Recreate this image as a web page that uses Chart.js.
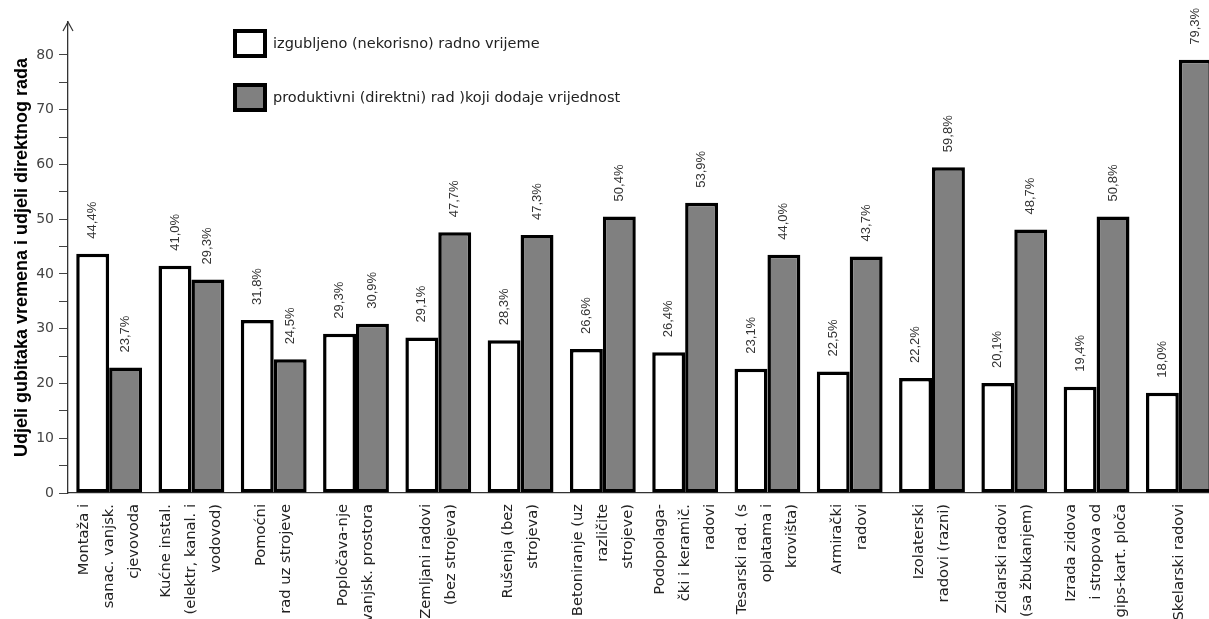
<!DOCTYPE html>
<html><head><meta charset="utf-8">
<script src="https://cdn.jsdelivr.net/npm/chart.js@4.4.0/dist/chart.umd.min.js"></script>
<style>html,body{margin:0;padding:0;background:#fff;overflow:hidden}#wrap{width:1220px;height:619px;position:relative}</style>
</head><body><div id="wrap"><canvas id="c"></canvas></div>
<script>
const categories = [
  ["Montaža i","sanac. vanjsk.","cjevovoda"],
  ["Kućne instal.","(elektr, kanal. i","vodovod)"],
  ["Pomoćni","rad uz strojeve"],
  ["Popločava-nje","vanjsk. prostora"],
  ["Zemljani radovi","(bez strojeva)"],
  ["Rušenja (bez","strojeva)"],
  ["Betoniranje (uz","različite","strojeve)"],
  ["Podopolaga-","čki i keramič.","radovi"],
  ["Tesarski rad. (s","oplatama i","krovišta)"],
  ["Armirački","radovi"],
  ["Izolaterski","radovi (razni)"],
  ["Zidarski radovi","(sa žbukanjem)"],
  ["Izrada zidova","i stropova od","gips-kart. ploča"],
  ["Skelarski radovi"]
];
const seriesNames = ["izgubljeno (nekorisno) radno vrijeme","produktivni (direktni) rad )koji dodaje vrijednost"];
const lostValues = [43.7,41.5,31.6,29.1,28.4,27.9,26.3,25.7,22.7,22.2,21.0,20.1,19.4,18.3];
const productiveValues = [22.9,39.0,24.4,30.9,47.6,47.1,50.5,53.0,43.5,43.2,59.5,48.1,50.5,79.1];
const lostLabels = ["44,4%","41,0%","31,8%","29,3%","29,1%","28,3%","26,6%","26,4%","23,1%","22,5%","22,2%","20,1%","19,4%","18,0%"];
const productiveLabels = ["23,7%","29,3%","24,5%","30,9%","47,7%","47,3%","50,4%","53,9%","44,0%","43,7%","59,8%","48,7%","50,8%","79,3%"];
const yTitle = "Udjeli gubitaka vremena i udjeli direktnog rada";

const barLabels = [lostLabels, productiveLabels];
const fills = ["#ffffff","#808080"];

const overlay = {
  id: 'overlay',
  afterDraw(chart) {
    const ctx = chart.ctx, xs = chart.scales.x, area = chart.chartArea;
    ctx.save();
    // arrow head on y axis
    ctx.strokeStyle = '#333'; ctx.lineWidth = 1.2;
    ctx.beginPath();
    ctx.moveTo(area.left - 5, area.top + 9);
    ctx.lineTo(area.left, area.top);
    ctx.lineTo(area.left + 5, area.top + 9);
    ctx.stroke();
    // value labels
    ctx.font = '13px "Liberation Sans", Arial, sans-serif';
    ctx.fillStyle = '#333';
    ctx.textAlign = 'left'; ctx.textBaseline = 'middle';
    chart.data.datasets.forEach((ds, di) => {
      chart.getDatasetMeta(di).data.forEach((bar, i) => {
        ctx.save();
        ctx.translate(bar.x, bar.y - 15);
        ctx.rotate(-Math.PI / 2);
        ctx.fillText(barLabels[di][i], 0, 0);
        ctx.restore();
      });
    });
    // category labels
    ctx.font = '14.7px "DejaVu Sans", sans-serif';
    ctx.fillStyle = '#222';
    ctx.textAlign = 'right'; ctx.textBaseline = 'middle';
    categories.forEach((lines, i) => {
      const cx = xs.getPixelForValue(i);
      const n = lines.length;
      lines.forEach((t, j) => {
        ctx.save();
        ctx.translate(cx + (j - (n - 1) / 2) * 25, area.bottom + 11);
        ctx.rotate(-Math.PI / 2);
        ctx.fillText(t, 0, 0);
        ctx.restore();
      });
    });
    // legend
    const boxes = [[235, 31], [235, 85]];
    boxes.forEach((b, k) => {
      ctx.fillStyle = fills[k];
      ctx.fillRect(b[0], b[1], 30, 25);
      ctx.strokeStyle = '#000'; ctx.lineWidth = 4;
      ctx.strokeRect(b[0], b[1], 30, 25);
      ctx.fillStyle = '#222';
      ctx.font = '14.5px "DejaVu Sans", sans-serif';
      ctx.textAlign = 'left'; ctx.textBaseline = 'middle';
      ctx.fillText(seriesNames[k], 273, b[1] + 13);
    });
    ctx.restore();
  }
};

new Chart(document.getElementById('c'), {
  type: 'bar',
  data: {
    labels: categories.map(c => c.join(' ')),
    datasets: [
      { label: seriesNames[0], data: lostValues, backgroundColor: fills[0], borderColor: '#000', borderWidth: 3.5, borderSkipped: false },
      { label: seriesNames[1], data: productiveValues, backgroundColor: fills[1], borderColor: '#000', borderWidth: 3.5, borderSkipped: false }
    ]
  },
  options: {
    responsive: true, maintainAspectRatio: false, animation: false,
    layout: { padding: { top: 22, left: 0, right: 0, bottom: 0 } },
    categoryPercentage: 0.8, barPercentage: 1.0,
    plugins: { legend: { display: false }, tooltip: { enabled: false } },
    scales: {
      x: {
        grid: { display: false },
        ticks: { display: false },
        border: { color: '#333', width: 1.3 },
        afterFit(s) { s.height = 126; }
      },
      y: {
        min: 0, max: 86,
        afterBuildTicks(s) { s.ticks = s.ticks.filter(t => t.value <= 80); },
        afterFit(s) { s.width = 68; },
        ticks: {
          stepSize: 5, padding: 5, color: '#444',
          font: { family: '"DejaVu Sans", sans-serif', size: 14 },
          callback: v => (v % 10 === 0 ? v : '')
        },
        grid: { drawOnChartArea: false, drawTicks: true, tickLength: 9, color: '#444' },
        border: { color: '#333', width: 1.3 },
        title: {
          display: true, text: yTitle, color: '#000',
          font: { family: '"Liberation Sans", Arial, sans-serif', size: 18, weight: 'bold' },
          padding: { top: 11, bottom: 0 }
        }
      }
    }
  },
  plugins: [overlay]
});
</script></body></html>
